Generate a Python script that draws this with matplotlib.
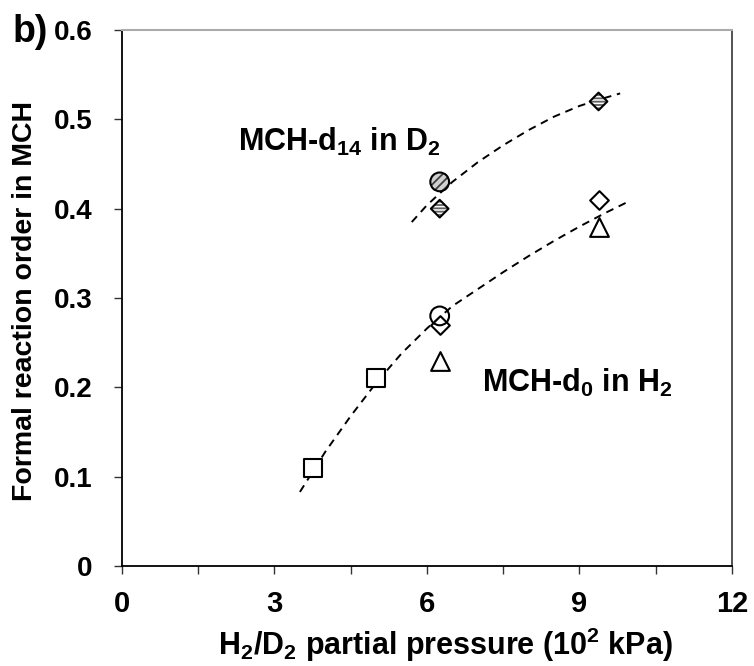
import numpy as np
import matplotlib.pyplot as plt
from matplotlib.ticker import MultipleLocator

plt.rcParams['font.family'] = ['Liberation Sans', 'DejaVu Sans']
plt.rcParams['font.weight'] = 'bold'
plt.rcParams['axes.labelweight'] = 'bold'
plt.rcParams['mathtext.fontset'] = 'custom'
plt.rcParams['mathtext.rm'] = 'Liberation Sans:bold'
plt.rcParams['mathtext.default'] = 'rm'
plt.rcParams['hatch.linewidth'] = 1.3

# MCH-d0 in H2 (open markers)
sq_x = [3.75, 5.0]
sq_y = [0.11, 0.21]
circ_x = [6.25]
circ_y = [0.28]
dia_x = [6.25, 9.375]
dia_y = [0.27, 0.41]
tri_x = [6.25, 9.375]
tri_y = [0.23, 0.38]

# MCH-d14 in D2 (hatched markers)
hcirc_x = [6.25]
hcirc_y = [0.43]
hdia_x = [6.25, 9.375]
hdia_y = [0.40, 0.52]

# dashed trend lines
fit_h_x = [3.5, 4.0, 4.5, 5.0, 5.5, 6.0, 6.5, 7.0, 7.5, 8.0, 8.5, 9.0, 9.5, 10.0]
fit_h_y = [0.083, 0.128, 0.168, 0.205, 0.238, 0.266, 0.291, 0.310, 0.329,
           0.347, 0.364, 0.380, 0.395, 0.409]
fit_d_x = [5.7, 6.0, 6.5, 7.0, 7.5, 8.0, 8.5, 9.0, 9.5, 9.8]
fit_d_y = [0.385, 0.404, 0.430, 0.452, 0.471, 0.488, 0.503, 0.515, 0.524, 0.529]

x_ticks = [0, 3, 6, 9, 12]
y_ticks = [0, 0.1, 0.2, 0.3, 0.4, 0.5, 0.6]

fig = plt.figure(figsize=(7.54, 6.66), dpi=100)
ax = fig.add_axes([0.1618, 0.150, 0.809, 0.805])

ax.plot(fit_h_x, fit_h_y, ls=(0, (4, 3)), color='black', lw=1.4, zorder=2)
ax.plot(fit_d_x, fit_d_y, ls=(0, (4, 3)), color='black', lw=1.4, zorder=2)

open_kw = dict(facecolor='white', edgecolor='black', linewidth=1.5, zorder=3)
ax.scatter(sq_x, sq_y, marker='s', s=13.5 ** 2, **open_kw)
ax.scatter(tri_x, tri_y, marker='^', s=13.5 ** 2, **open_kw)
ax.scatter(dia_x, dia_y, marker='D', s=9.5 ** 2, **open_kw)
ax.scatter(circ_x, circ_y, marker='o', s=13.5 ** 2, facecolor='none',
           edgecolor='black', linewidth=1.5, zorder=4)

# hatched markers: fill + hatch first, then black outline on top
ax.scatter(hcirc_x, hcirc_y, marker='o', s=13.5 ** 2, facecolor='#d0d0d0',
           edgecolor='#404040', hatch='////', linewidth=0, zorder=3)
ax.scatter(hcirc_x, hcirc_y, marker='o', s=13.5 ** 2, facecolor='none',
           edgecolor='black', linewidth=1.5, zorder=4)
ax.scatter(hdia_x, hdia_y, marker='D', s=9 ** 2, facecolor='white',
           edgecolor='#606060', hatch='-----', linewidth=0, zorder=3)
ax.scatter(hdia_x, hdia_y, marker='D', s=9 ** 2, facecolor='none',
           edgecolor='black', linewidth=1.5, zorder=4)

ax.text(2.28, 0.475, 'MCH-d$_{14}$ in D$_2$', fontsize=22, va='center', ha='left')
ax.text(7.08, 0.205, 'MCH-d$_0$ in H$_2$', fontsize=22, va='center', ha='left')

ax.set_xlim(0, 12)
ax.set_ylim(0, 0.6)
ax.set_xticks(x_ticks)
ax.set_xticklabels([str(t) for t in x_ticks], fontsize=21)
ax.xaxis.set_minor_locator(MultipleLocator(1.5))
ax.set_yticks(y_ticks)
ax.set_yticklabels(['0' if t == 0 else f'{t:.1f}' for t in y_ticks], fontsize=20)

ax.tick_params(axis='x', which='both', direction='out', length=6, width=1,
               color='#333333', pad=11)
ax.tick_params(axis='y', direction='out', length=6, width=1, color='#333333', pad=15)

for side in ['left', 'bottom']:
    ax.spines[side].set_color('black')
    ax.spines[side].set_linewidth(1.3)
ax.spines['top'].set_color('#aaaaaa')
ax.spines['top'].set_linewidth(1.5)
ax.spines['right'].set_color('#444444')
ax.spines['right'].set_linewidth(1.3)

ax.set_xlabel('H$_2$/D$_2$ partial pressure (10$^2$ kPa)', fontsize=22)
ax.xaxis.set_label_coords(0.53, -0.112)
ax.set_ylabel('Formal reaction order in MCH', fontsize=20.5)
ax.yaxis.set_label_coords(-0.137, 0.495)

fig.text(0.017, 0.937, 'b)', fontsize=27, ha='left', va='baseline')

fig.savefig('out.png', dpi=100)
